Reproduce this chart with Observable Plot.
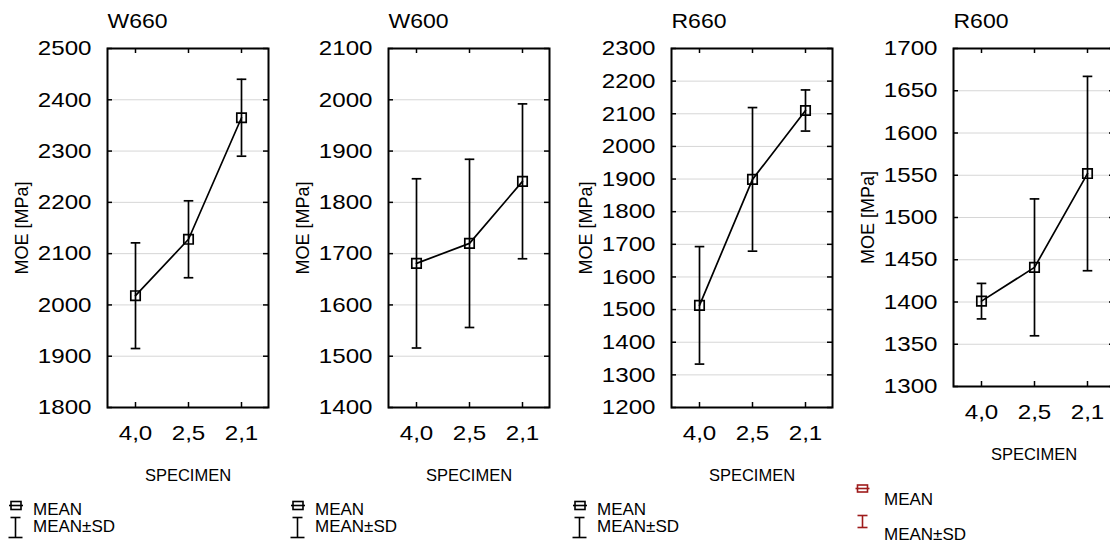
<!DOCTYPE html>
<html><head><meta charset="utf-8">
<script src="https://cdn.jsdelivr.net/npm/d3@7"></script>
<script src="https://cdn.jsdelivr.net/npm/@observablehq/plot@0.6"></script>
<style>
html,body{margin:0;padding:0;background:#fff;overflow:hidden;width:1110px;height:544px;}
#root{position:relative;width:1110px;height:544px;overflow:hidden;font-family:"Liberation Sans",Arial,sans-serif;}
.panel{position:absolute;top:0;}
#overlay{position:absolute;left:0;top:0;}
</style></head><body><div id="root"></div>
<script>
// ---- data ----
const specimens = ["4,0", "2,5", "2,1"];
const titles = ["W660", "W600", "R660", "R600"];
const w660Mean = [2018, 2128, 2365];
const w660Sd   = [103, 75, 75];
const w600Mean = [1681, 1720, 1841];
const w600Sd   = [165, 164, 151];
const r660Mean = [1513, 1899, 2110];
const r660Sd   = [180, 220, 63];
const r600Mean = [1401, 1441, 1552];
const r600Sd   = [21, 81, 115];
const w660Ticks = [1800, 1900, 2000, 2100, 2200, 2300, 2400, 2500];
const w600Ticks = [1400, 1500, 1600, 1700, 1800, 1900, 2000, 2100];
const r660Ticks = [1200, 1300, 1400, 1500, 1600, 1700, 1800, 1900, 2000, 2100, 2200, 2300];
const r600Ticks = [1300, 1350, 1400, 1450, 1500, 1550, 1600, 1650, 1700];
const yLabel = "MOE [MPa]";
const xLabel = "SPECIMEN";
const legendLabels = ["MEAN", "MEAN±SD"];

const FONT = "Liberation Sans, Arial, sans-serif";
const root = document.getElementById("root");

const squareSym = {draw(ctx, size) { const r = Math.sqrt(size / Math.PI); ctx.rect(-r, -r, 2 * r, 2 * r); }};
const capSym = {draw(ctx, size) { const r = Math.sqrt(size / Math.PI); ctx.moveTo(-r, 0); ctx.lineTo(r, 0); }};

const panels = [
  {title: titles[0], mean: w660Mean, sd: w660Sd, ticks: w660Ticks, left: 7,     bottom: 407},
  {title: titles[1], mean: w600Mean, sd: w600Sd, ticks: w600Ticks, left: 288.3, bottom: 407},
  {title: titles[2], mean: r660Mean, sd: r660Sd, ticks: r660Ticks, left: 570.7, bottom: 407},
  {title: titles[3], mean: r600Mean, sd: r600Sd, ticks: r600Ticks, left: 852.7, bottom: 386}
];

const ML = 100, MT = 48, FW = 161;
const SW = 1.7;
panels.forEach(p => {
  const data = specimens.map((s, i) => ({s, mean: p.mean[i], lo: p.mean[i] - p.sd[i], hi: p.mean[i] + p.sd[i]}));
  const height = p.bottom + 84;
  const FH = p.bottom - MT;
  const t = p.ticks;
  const svg = Plot.plot({
    width: ML + FW + 29, height,
    marginLeft: ML, marginRight: 29, marginTop: MT, marginBottom: height - p.bottom,
    style: {fontFamily: FONT, fontSize: "21px", color: "black", background: "transparent", overflow: "visible"},
    x: {type: "point", domain: specimens, padding: 0.5, axis: null},
    y: {domain: [t[0], t[t.length - 1]], axis: null},
    marks: [
      Plot.ruleY(t.slice(1, -1), {stroke: "#d6d6d6", strokeWidth: 1}),
      Plot.axisY({ticks: t, tickSize: 0, tickPadding: 16, tickFormat: d => String(d), label: null, fontSize: 21}),
      Plot.axisX({tickSize: 0, tickPadding: 18, label: null, fontSize: 21}),
      Plot.tickX(specimens, {x: d => d, insetTop: FH - 5, stroke: "black", strokeWidth: 1.5}),
      Plot.tickX(specimens, {x: d => d, insetBottom: FH - 5, stroke: "black", strokeWidth: 1.5}),
      Plot.tickY(t, {y: d => d, insetLeft: FW - 5, stroke: "black", strokeWidth: 1.5}),
      Plot.tickY(t, {y: d => d, insetRight: FW - 5, stroke: "black", strokeWidth: 1.5}),
      Plot.frame({stroke: "black", strokeWidth: 2}),
      Plot.ruleX(data, {x: "s", y1: "lo", y2: "hi", stroke: "black", strokeWidth: SW}),
      Plot.dot(data, {x: "s", y: "lo", symbol: capSym, r: 4.8, stroke: "black", strokeWidth: SW}),
      Plot.dot(data, {x: "s", y: "hi", symbol: capSym, r: 4.8, stroke: "black", strokeWidth: SW}),
      Plot.line(data, {x: "s", y: "mean", stroke: "black", strokeWidth: SW}),
      Plot.dot(data, {x: "s", y: "mean", symbol: squareSym, r: 4.7, stroke: "black", strokeWidth: SW, fill: "none"}),
      Plot.text([p.title], {text: d => d, frameAnchor: "top-left", dy: -21, lineAnchor: "bottom", textAnchor: "start", fontSize: 20}),
      Plot.text([xLabel], {text: d => d, frameAnchor: "bottom", dy: 73, lineAnchor: "bottom", fontSize: 16.5}),
      Plot.text([yLabel], {text: d => d, frameAnchor: "left", rotate: -90, dx: -80, lineAnchor: "bottom", textAnchor: "middle", fontSize: 18})
    ]
  });
  svg.classList.add("panel");
  svg.style.left = (p.left) + "px";
  root.appendChild(svg);
  // emulate the slightly wide lettering of the original for tick labels and titles
  svg.querySelectorAll("text").forEach(el => {
    const s = el.textContent;
    if (s === xLabel || s === yLabel) return;
    const L = el.getComputedTextLength();
    el.setAttribute("textLength", (L * 1.15).toFixed(1));
    el.setAttribute("lengthAdjust", "spacingAndGlyphs");
  });
});

// ---- legends ----
const ov = d3.select(root).append("svg").attr("id", "overlay").attr("width", 1110).attr("height", 544)
  .style("font-family", FONT).style("font-size", "17px");
function meanIcon(g, x, y, w, h, color) {
  g.append("rect").attr("x", x - w / 2).attr("y", y - h / 2).attr("width", w).attr("height", h)
    .attr("fill", "none").attr("stroke", color).attr("stroke-width", 1.6);
  g.append("line").attr("x1", x - w / 2 - 2).attr("x2", x + w / 2 + 2).attr("y1", y).attr("y2", y)
    .attr("stroke", color).attr("stroke-width", 1.6);
}
function sdIcon(g, x, y1, y2, wt, wb, color) {
  g.append("line").attr("x1", x).attr("x2", x).attr("y1", y1).attr("y2", y2).attr("stroke", color).attr("stroke-width", 1.6);
  g.append("line").attr("x1", x - wt / 2).attr("x2", x + wt / 2).attr("y1", y1).attr("y2", y1).attr("stroke", color).attr("stroke-width", 1.6);
  g.append("line").attr("x1", x - wb / 2).attr("x2", x + wb / 2).attr("y1", y2).attr("y2", y2).attr("stroke", color).attr("stroke-width", 1.6);
}
[0, 282, 564].forEach(off => {
  const g = ov.append("g").attr("transform", `translate(${off},0)`);
  meanIcon(g, 16, 505.5, 10, 8, "black");
  sdIcon(g, 15.5, 517.5, 537.5, 10, 14, "black");
  g.append("text").attr("x", 33).attr("y", 515).text(legendLabels[0]);
  g.append("text").attr("x", 33).attr("y", 532).text(legendLabels[1]);
});
{
  const red = "#9e1b1b";
  const g = ov.append("g");
  meanIcon(g, 862.5, 488.5, 10, 7, red);
  sdIcon(g, 862.5, 515.5, 527.5, 10, 10, red);
  g.append("text").attr("x", 884).attr("y", 505).text(legendLabels[0]);
  g.append("text").attr("x", 884).attr("y", 540).text(legendLabels[1]);
}
</script></body></html>
